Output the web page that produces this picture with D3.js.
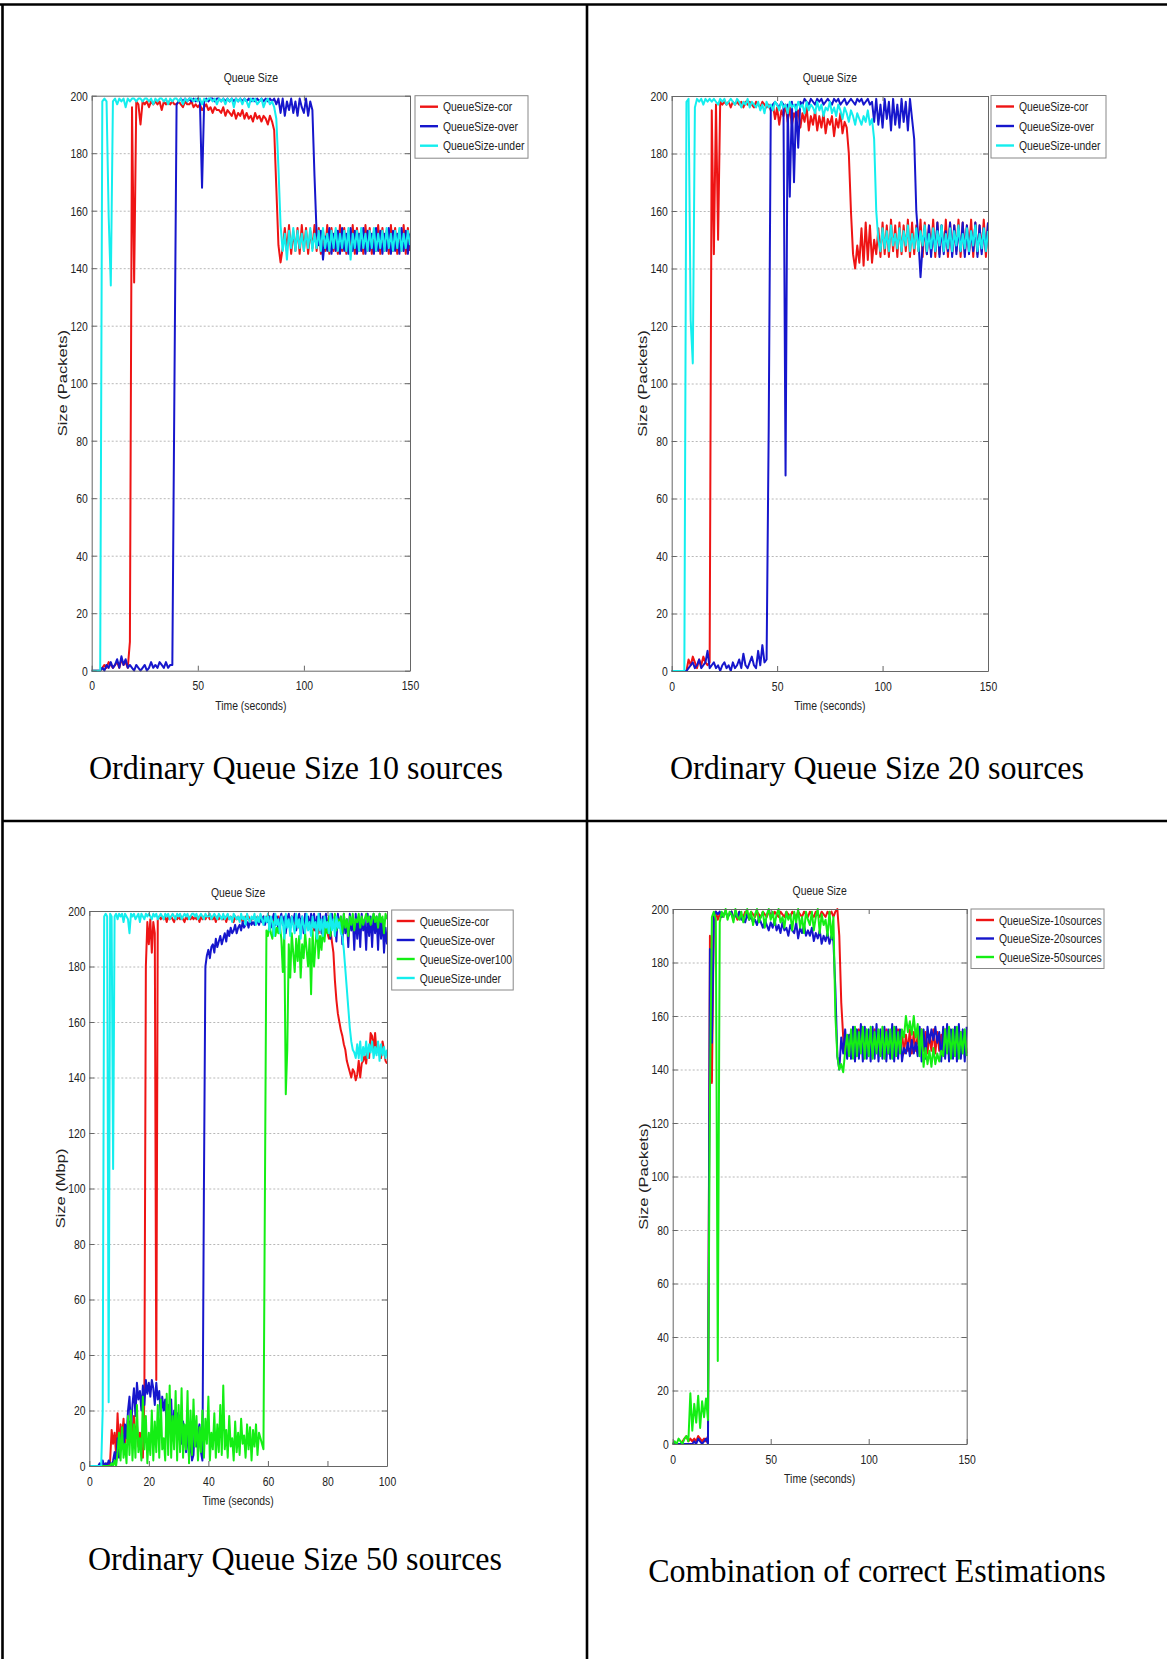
<!DOCTYPE html>
<html>
<head>
<meta charset="utf-8">
<script src="https://cdn.jsdelivr.net/npm/d3@7"></script>
<style>
  body { margin: 0; background: #fff; }
  svg { display: block; }
</style>
</head>
<body>
<svg id="fig" width="1167" height="1659"></svg>
<script>
// ---------- shared ticks ----------
const yTicks = [0, 20, 40, 60, 80, 100, 120, 140, 160, 180, 200];
const xTicks150 = [0, 50, 100, 150];
const xTicks100 = [0, 20, 40, 60, 80, 100];

// ---------- 10 sources (1 sample per second, 0..150 s) ----------
const q10Cor = [
  0,0,0,0,0,1,2,1,3,2,
  1,2,3,1,4,2,3,1,10,196,
  135,198,197,190,198,197,198,196,198,197,
  198,197,198,195,198,197,198,197,198,197,
  197,198,197,196,198,197,197,198,196,197,
  196,197,195,196,197,195,196,194,196,195,
  195,194,196,193,195,194,193,195,192,194,
  193,195,192,194,192,193,191,194,192,193,
  191,193,192,190,193,191,188,168,148,142,
  147,154,146,155,145,153,146,154,145,155,
  146,154,145,153,147,155,146,154,145,153,
  146,155,145,154,146,153,145,155,146,154,
  145,153,146,155,145,154,146,153,145,155,
  146,154,145,153,146,155,145,154,146,153,
  145,155,146,154,145,153,146,155,145,154,
  146
];
const q10Over = [
  0,0,0,0,0,1,0,2,1,3,
  1,2,4,1,5,2,4,1,2,1,
  0,2,1,0,1,2,0,1,3,1,
  2,1,3,2,1,3,1,2,2,100,
  197,198,199,198,199,198,199,198,199,198,
  199,198,168,198,199,198,199,199,198,199,
  199,198,199,198,199,198,199,198,199,198,
  199,198,199,198,199,198,199,198,199,198,
  199,198,199,198,199,198,199,197,199,194,
  199,193,198,195,199,194,198,193,199,196,
  194,199,193,198,195,172,152,148,153,143,
  151,146,154,145,152,146,153,145,154,146,
  152,145,154,146,153,145,152,146,154,145,
  153,146,152,145,154,146,153,145,152,146,
  154,145,153,146,152,145,154,146,153,145,
  152
];
const q10Under = [
  0,0,0,0,0,198,199,198,158,134,
  198,199,197,199,198,199,196,199,198,199,
  199,198,199,199,198,199,199,198,199,197,
  199,198,199,199,198,199,197,199,198,199,
  199,198,199,197,199,198,199,199,198,199,
  198,199,197,199,198,199,199,198,199,197,
  199,198,199,197,199,198,199,196,199,198,
  199,197,199,198,196,199,198,199,197,198,
  199,196,198,199,197,198,196,192,175,155,
  146,152,143,153,147,154,146,153,147,152,
  146,153,147,154,146,152,147,153,146,154,
  147,152,146,153,147,154,146,152,147,153,
  146,154,143,152,147,153,146,154,147,152,
  146,153,147,154,146,152,147,153,146,154,
  147,152,146,153,147,154,146,152,147,153,
  148
];

// ---------- 20 sources (1 sample per second, 0..150 s) ----------
const q20Cor = [
  0,0,0,0,0,0,0,0,4,2,
  5,3,1,4,2,5,3,2,3,195,
  145,197,150,198,197,198,197,198,196,198,
  197,198,197,198,196,198,197,198,197,196,
  198,197,196,198,197,196,197,195,197,192,
  196,190,195,193,197,191,196,190,194,192,
  195,189,194,191,196,188,193,190,195,188,
  193,189,194,187,192,190,193,186,192,189,
  194,187,191,189,180,160,145,140,148,142,
  154,141,156,143,155,142,150,145,154,144,
  156,145,155,144,157,146,155,144,156,145,
  155,146,157,144,156,145,155,146,157,144,
  156,145,155,146,157,144,156,145,155,146,
  157,144,156,145,155,146,157,144,156,145,
  155,146,157,144,156,145,155,146,157,144,
  156
];
const q20Over = [
  0,0,0,0,0,0,0,0,1,2,
  3,1,2,4,1,2,3,7,1,2,
  3,1,2,0,2,3,1,2,0,3,
  1,2,4,1,6,2,1,3,5,2,
  1,7,2,9,3,4,84,196,197,198,
  197,196,198,197,68,197,165,198,170,197,
  182,198,197,199,198,197,199,198,197,199,
  198,199,197,198,199,198,197,199,198,199,
  197,198,199,197,198,199,198,197,199,198,
  199,197,198,199,197,198,191,199,190,197,
  189,199,192,198,188,199,190,197,189,199,
  191,198,188,199,192,185,160,150,137,148,
  154,145,155,144,153,146,156,144,155,145,
  153,146,156,144,155,145,154,146,156,144,
  155,145,153,146,156,144,155,145,154,146,
  156
];
const q20Under = [
  0,0,0,0,0,0,0,198,199,122,
  107,196,199,198,199,197,199,198,199,198,
  199,198,197,199,198,199,197,198,199,198,
  197,199,198,196,198,197,199,196,198,197,
  196,198,195,197,194,198,196,197,195,198,
  197,195,198,196,197,194,198,196,197,195,
  198,196,197,194,198,195,197,196,194,198,
  195,197,193,196,195,198,194,196,193,197,
  195,192,196,194,191,195,193,190,194,192,
  190,193,191,195,190,192,185,160,150,146,
  154,147,153,146,155,148,152,147,154,146,
  153,148,155,146,152,147,154,146,153,148,
  155,146,152,147,154,146,153,148,155,146,
  152,147,154,146,153,148,155,146,152,147,
  154,146,153,148,155,146,152,147,154,146,
  153
];

// ---------- 50 sources (2 samples per second, 0..100 s) ----------
const q50Cor = [
  0,0,0,0,0,0,0,0,0,0,
  0,0,1,0,2,13,8,12,4,19,
  6,15,10,17,8,14,12,16,9,13,
  18,10,15,7,12,5,3,25,180,196,
  188,197,185,196,192,31,197,198,197,198,
  197,198,196,198,197,198,197,196,198,197,
  198,197,198,197,196,198,197,198,197,198,
  197,198,197,198,196,198,197,198,197,198,
  198,197,198,197,198,196,198,197,198,197,
  197,198,196,198,197,198,197,196,198,197,
  198,197,198,196,197,198,197,198,196,197,
  197,198,197,198,196,198,197,198,197,198,
  196,198,197,195,198,197,196,198,195,197,
  197,195,198,196,197,194,198,196,195,197,
  196,194,197,195,196,193,197,195,194,196,
  195,193,196,194,192,195,193,196,191,194,
  192,190,193,189,185,175,168,163,160,157,
  155,152,150,146,144,142,140,143,142,139,
  141,146,140,145,146,148,145,150,147,156,
  155,150,156,149,152,148,147,153,150,146,
  145
];
const q50Over = [
  0,0,0,0,0,0,0,1,0,2,
  0,1,0,2,1,0,2,5,1,10,
  3,8,12,6,15,10,20,25,13,22,
  28,18,30,24,27,20,29,22,31,26,
  30,25,31,28,22,30,24,27,18,25,
  20,24,14,22,18,24,10,20,15,19,
  12,18,8,16,11,5,14,3,10,2,
  4,16,7,12,15,5,2,100,180,184,
  186,183,187,188,185,190,187,189,191,188,
  190,192,189,193,191,194,192,193,195,192,
  194,195,193,196,194,195,196,194,197,195,
  196,195,197,196,195,197,196,198,195,197,
  196,198,194,197,199,195,198,193,197,199,
  195,198,192,197,199,194,198,196,199,193,
  197,199,195,198,192,199,196,198,194,199,
  196,199,193,198,195,199,192,198,196,199,
  193,198,190,199,195,197,189,199,194,198,
  188,199,192,197,187,199,193,198,186,199,
  190,198,187,199,193,197,186,199,191,198,
  187,199,192,198,186,199,190,197,185,194,
  188
];
const q50Over100 = [
  0,0,0,0,0,0,0,0,0,0,
  0,0,0,0,0,1,0,2,0,5,
  12,2,14,3,8,1,18,4,20,2,
  15,3,22,5,10,2,25,6,18,1,
  12,4,20,2,16,5,22,3,24,6,
  10,2,26,4,29,3,18,6,27,2,
  22,5,28,3,15,6,27,1,20,4,
  24,7,18,2,14,5,20,3,17,8,
  25,2,12,6,19,3,15,5,22,4,
  29,6,13,3,18,7,10,2,16,5,
  12,4,17,8,11,3,15,6,14,2,
  13,7,15,4,12,10,8,6,100,193,
  191,195,192,190,196,191,194,192,195,190,
  178,193,134,150,188,176,192,185,178,190,
  182,191,176,188,183,192,186,180,190,170,
  193,180,188,195,183,191,186,194,189,196,
  192,198,191,196,194,199,193,197,195,198,
  192,199,194,197,191,198,195,199,193,197,
  196,199,194,198,195,197,199,196,198,195,
  197,199,196,198,194,199,196,198,192,199,
  197
];
const q50Under = [
  0,0,0,0,0,0,0,0,0,20,
  198,199,198,23,199,198,107,198,199,197,
  199,198,199,196,199,198,197,192,199,198,
  199,197,198,199,196,199,198,197,199,198,
  199,198,197,199,198,199,197,198,199,198,
  197,199,198,199,197,198,199,198,197,199,
  198,199,197,198,199,198,199,197,198,199,
  199,198,199,197,198,199,198,197,199,198,
  198,199,197,198,199,198,197,199,198,197,
  199,197,198,199,197,198,196,199,198,197,
  198,196,199,197,198,195,199,197,196,198,
  197,199,195,198,196,199,197,195,198,196,
  199,193,198,196,191,199,195,197,192,198,
  196,190,199,194,197,191,198,195,192,199,
  194,197,190,198,195,192,199,193,196,191,
  198,194,196,190,199,193,197,191,198,194,
  196,192,199,193,197,191,198,194,196,192,
  191,186,179,172,165,158,153,150,149,147,
  152,147,153,146,151,148,153,147,152,149,
  153,147,151,148,153,146,152,148,151,147,
  150
];

// ---------- combination (1 sample per second, 0..150 s) ----------
const mix10 = [
  0,0,0,0,0,1,2,3,1,2,
  1,2,1,3,2,1,2,1,3,190,
  135,198,199,196,198,197,198,199,197,198,
  199,197,198,196,199,198,197,199,198,197,
  199,198,197,199,198,197,199,198,197,199,
  198,197,199,198,197,199,198,197,199,198,
  197,199,198,197,199,198,197,199,198,197,
  199,198,197,199,198,197,199,198,197,199,
  198,199,197,199,200,190,165,152,146,150,
  146,154,147,153,146,155,147,153,146,154,
  147,153,146,155,147,154,146,153,147,155,
  146,154,147,153,146,155,147,154,146,153,
  147,155,146,154,147,153,146,155,147,154,
  146,153,147,155,146,154,147,153,146,155,
  147,154,146,153,147,155,146,154,147,153,
  146
];
const mix20 = [
  0,0,0,0,0,0,0,0,0,0,
  0,1,0,2,1,0,1,2,0,185,
  150,197,199,198,199,197,198,199,197,198,
  199,196,198,197,199,196,197,195,198,196,
  197,195,196,194,197,195,193,196,194,192,
  195,193,196,192,194,191,195,192,193,190,
  194,192,191,195,189,193,191,194,190,192,
  190,193,188,191,189,192,187,190,188,191,
  187,190,188,170,145,140,152,146,155,144,
  153,144,156,143,155,144,157,143,156,144,
  155,143,156,144,157,143,155,144,156,143,
  155,144,157,143,156,144,155,143,148,146,
  150,145,151,146,150,145,156,143,155,144,
  156,150,155,151,156,150,154,143,156,144,
  157,143,155,144,156,143,157,144,155,143,
  156
];
const mix50 = [
  0,1,0,2,1,0,2,3,1,19,
  5,15,8,18,6,16,10,17,9,130,
  197,199,196,31,195,199,197,200,196,199,
  198,195,200,197,196,199,195,198,200,196,
  199,194,198,200,195,197,199,193,198,200,
  196,199,194,198,200,195,197,193,199,196,
  198,192,199,195,200,193,197,191,199,196,
  194,199,192,197,200,191,198,194,196,190,
  199,189,197,160,145,140,142,139,147,153,
  145,155,144,156,145,154,146,156,144,155,
  145,156,144,154,146,155,145,156,144,154,
  146,155,144,156,145,154,146,155,152,160,
  154,158,153,160,152,157,145,155,141,148,
  142,147,141,148,142,146,143,147,145,155,
  146,156,144,155,145,156,144,154,146,155,
  145
];

// ---------- series colours ----------
const RED = '#ee1414', BLUE = '#1616cc', CYAN = '#14eeee', GREEN = '#14ee14';

// ---------- panel layouts ----------
const panels = [
  {
    left: 91.7, top: 95.7, width: 318.3, height: 575, xMax: 150, step: 1, xTicks: xTicks150,
    yLabel: 'Size (Packets)',
    series: [
      { name: 'QueueSize-cor', color: RED, values: q10Cor },
      { name: 'QueueSize-over', color: BLUE, values: q10Over },
      { name: 'QueueSize-under', color: CYAN, values: q10Under }
    ],
    legend: { x: 415, y: 95.7, w: 113, rowH: 19.5 },
    caption: { text: 'Ordinary Queue Size 10 sources', x: 296, y: 779 }
  },
  {
    left: 671.7, top: 96, width: 316.3, height: 575, xMax: 150, step: 1, xTicks: xTicks150,
    yLabel: 'Size (Packets)',
    series: [
      { name: 'QueueSize-cor', color: RED, values: q20Cor },
      { name: 'QueueSize-over', color: BLUE, values: q20Over },
      { name: 'QueueSize-under', color: CYAN, values: q20Under }
    ],
    legend: { x: 991, y: 95.5, w: 115, rowH: 19.5 },
    caption: { text: 'Ordinary Queue Size 20 sources', x: 877, y: 779 }
  },
  {
    left: 89.3, top: 911, width: 297.7, height: 555, xMax: 100, step: 0.5, xTicks: xTicks100,
    yLabel: 'Size (Mbp)',
    series: [
      { name: 'QueueSize-cor', color: RED, values: q50Cor },
      { name: 'QueueSize-over', color: BLUE, values: q50Over },
      { name: 'QueueSize-over100', color: GREEN, values: q50Over100 },
      { name: 'QueueSize-under', color: CYAN, values: q50Under }
    ],
    legend: { x: 391.7, y: 910, w: 121.5, rowH: 19 },
    caption: { text: 'Ordinary Queue Size 50 sources', x: 295, y: 1570 }
  },
  {
    left: 672.7, top: 909, width: 294, height: 535, xMax: 150, step: 1, xTicks: xTicks150,
    yLabel: 'Size (Packets)',
    series: [
      { name: 'QueueSize-10sources', color: RED, values: mix10 },
      { name: 'QueueSize-20sources', color: BLUE, values: mix20 },
      { name: 'QueueSize-50sources', color: GREEN, values: mix50 }
    ],
    legend: { x: 971, y: 909, w: 133, rowH: 18.5 },
    caption: { text: 'Combination of correct Estimations', x: 877, y: 1582 }
  }
];

const svg = d3.select('#fig');
const SANS = "'Liberation Sans', Arial, sans-serif";
const SQUEEZE = 0.77;   // the plots use a horizontally condensed sans

// ---------- table rules ----------
function rule(x1, y1, x2, y2) {
  svg.append('line').attr('x1', x1).attr('y1', y1).attr('x2', x2).attr('y2', y2)
    .attr('stroke', '#000').attr('stroke-width', 2.6);
}
rule(0, 4.5, 1167, 4.5);
rule(2.5, 4.5, 2.5, 1659);
rule(587, 4.5, 587, 1659);
rule(2.5, 821, 1167, 821);

function squeezedText(g, txt, x, y, size, anchor) {
  return g.append('text')
    .attr('transform', `translate(${x},${y}) scale(${SQUEEZE},1)`)
    .attr('text-anchor', anchor || 'middle')
    .attr('font-family', SANS).attr('font-size', size)
    .attr('fill', '#222').text(txt);
}

function styleTicks(sel) {
  sel.select('.domain').attr('stroke', '#666');
  sel.selectAll('.tick line').attr('stroke', '#666');
  sel.selectAll('.tick text')
    .attr('font-family', SANS).attr('font-size', 13.5).attr('fill', '#222');
}

function drawPanel(p) {
  const g = svg.append('g');
  const x = d3.scaleLinear().domain([0, p.xMax]).range([p.left, p.left + p.width]);
  const y = d3.scaleLinear().domain([0, 200]).range([p.top + p.height, p.top]);
  const bottom = p.top + p.height, right = p.left + p.width;

  // dotted horizontal grid
  g.append('g').attr('transform', `translate(${p.left},0)`)
    .call(d3.axisLeft(y).tickValues(yTicks.slice(1, -1)).tickSize(-p.width).tickFormat(''))
    .call(a => a.select('.domain').remove())
    .selectAll('.tick line').attr('stroke', '#b8b8b8').attr('stroke-dasharray', '2,2');

  // traces
  const line = d3.line().x((d, i) => x(i * p.step)).y(d => y(d));
  p.series.forEach(s => {
    g.append('path').datum(s.values)
      .attr('d', line).attr('fill', 'none')
      .attr('stroke', s.color).attr('stroke-width', 2)
      .attr('stroke-linejoin', 'round');
  });

  // axes with inward ticks on all four sides
  g.append('g').attr('transform', `translate(0,${bottom})`)
    .call(d3.axisBottom(x).tickValues(p.xTicks).tickSize(-5).tickSizeOuter(0).tickPadding(10))
    .call(styleTicks)
    .call(a => a.selectAll('.tick text').attr('transform', `scale(${SQUEEZE},1)`));
  g.append('g').attr('transform', `translate(0,${p.top})`)
    .call(d3.axisTop(x).tickValues(p.xTicks).tickSize(-5).tickSizeOuter(0).tickFormat(''))
    .call(styleTicks);
  g.append('g').attr('transform', `translate(${p.left},0)`)
    .call(d3.axisLeft(y).tickValues(yTicks).tickSize(-5).tickSizeOuter(0).tickPadding(5))
    .call(styleTicks)
    .call(a => a.selectAll('.tick text').attr('transform', `scale(${SQUEEZE},1)`));
  g.append('g').attr('transform', `translate(${right},0)`)
    .call(d3.axisRight(y).tickValues(yTicks).tickSize(-5).tickSizeOuter(0).tickFormat(''))
    .call(styleTicks);

  // titles
  squeezedText(g, 'Queue Size', p.left + p.width / 2, p.top - 14, 13.5);
  squeezedText(g, 'Time (seconds)', p.left + p.width / 2, bottom + 39, 13.5);
  g.append('text')
    .attr('transform', `translate(${p.left - 24.4},${p.top + p.height / 2}) rotate(-90) scale(1,${SQUEEZE})`)
    .attr('text-anchor', 'middle')
    .attr('font-family', SANS).attr('font-size', 16.5)
    .attr('fill', '#222').text(p.yLabel);

  // legend
  const L = p.legend;
  g.append('rect').attr('x', L.x).attr('y', L.y).attr('width', L.w)
    .attr('height', p.series.length * L.rowH + 4)
    .attr('fill', '#fff').attr('stroke', '#888').attr('stroke-width', 1);
  p.series.forEach((s, i) => {
    const ry = L.y + 11 + i * L.rowH;
    g.append('line').attr('x1', L.x + 5).attr('x2', L.x + 23).attr('y1', ry).attr('y2', ry)
      .attr('stroke', s.color).attr('stroke-width', 2.4);
    squeezedText(g, s.name, L.x + 28, ry + 4.6, 13.5, 'start');
  });

  // caption under the plot
  svg.append('text')
    .attr('transform', `translate(${p.caption.x},${p.caption.y}) scale(1,1.08)`)
    .attr('text-anchor', 'middle')
    .attr('font-family', "'Liberation Serif', 'Times New Roman', serif")
    .attr('font-size', 32).attr('fill', '#000')
    .text(p.caption.text);
}

panels.forEach(drawPanel);
</script>
</body>
</html>
